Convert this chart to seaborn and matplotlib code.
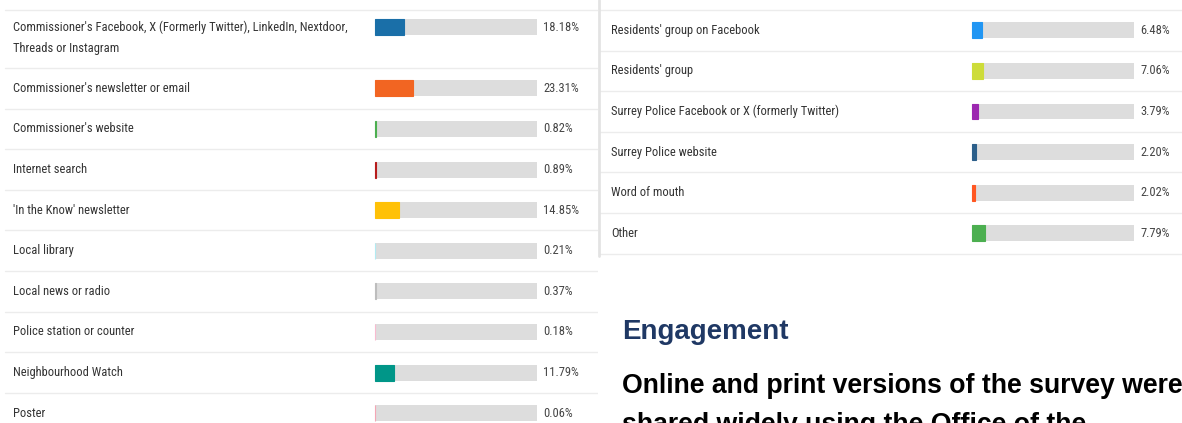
import matplotlib
matplotlib.use("Agg")
import matplotlib.pyplot as plt
import seaborn as sns
import pandas as pd

# --- data ---
left_labels = [
    "Commissioner's Facebook, X (Formerly Twitter), LinkedIn, Nextdoor,\nThreads or Instagram",
    "Commissioner's newsletter or email",
    "Commissioner's website",
    "Internet search",
    "'In the Know' newsletter",
    "Local library",
    "Local news or radio",
    "Police station or counter",
    "Neighbourhood Watch",
    "Poster",
]
left_values = [18.18, 23.31, 0.82, 0.89, 14.85, 0.21, 0.37, 0.18, 11.79, 0.06]
left_colors = ["#1a6fa8", "#f26522", "#4caf50", "#b71c1c", "#ffc107",
               "#b2ebf2", "#bdbdbd", "#f8bbd0", "#009688", "#f4a6b5"]

right_labels = [
    "Residents' group on Facebook",
    "Residents' group",
    "Surrey Police Facebook or X (formerly Twitter)",
    "Surrey Police website",
    "Word of mouth",
    "Other",
]
right_values = [6.48, 7.06, 3.79, 2.20, 2.02, 7.79]
right_colors = ["#2196f3", "#cddc39", "#9c27b0", "#2c5f8a", "#ff5722", "#4caf50"]

heading = "Engagement"
paragraph = ["Online and print versions of the survey were",
             "shared widely using the Office of the"]

sns.set_theme(style="white")
NARROW = ['Roboto Condensed', 'DejaVu Sans Condensed', 'Liberation Sans Narrow', 'Roboto']
plt.rcParams['font.family'] = NARROW

W, H = 1182, 423
fig = plt.figure(figsize=(W / 100, H / 100), dpi=100)
fig.patch.set_facecolor("white")

ROW = 40.6        # px per row
TOP = 10          # px, top of the tables
BAR_W = 162       # px, width of the 100% track
EXTRA = 0.43      # extra row height per wrapped line
LINE = 21 / ROW   # line spacing inside a wrapped label
FS = 9.0


def draw_panel(x0, x1, bar_x0, labels, values, colors, border=False):
    ax = fig.add_axes([x0 / W, 0, (x1 - x0) / W, 1])
    scale = BAR_W / 100
    to_data = lambda px: (px - bar_x0) / scale

    tops, centers = [], []
    t = 0.0
    for lab in labels:
        n = lab.count("\n") + 1
        tops.append(t)
        centers.append(t + 0.5 - 0.08 * (n - 1))
        t += 1 + EXTRA * (n - 1)
    tops.append(t)

    df = pd.DataFrame({"label": labels, "value": values, "pos": centers,
                       "full": [100] * len(labels)})
    sns.barplot(data=df, x="full", y="pos", orient="h", native_scale=True,
                color="#dddddd", saturation=1, width=16 / ROW, linewidth=0, ax=ax)
    n_bg = len(ax.patches)
    sns.barplot(data=df, x="value", y="pos", hue="label", orient="h",
                native_scale=True, dodge=False, legend=False, saturation=1,
                palette=dict(zip(labels, colors)), width=16 / ROW,
                linewidth=0, ax=ax)
    for p in ax.patches[n_bg:]:
        p.set_edgecolor(p.get_facecolor())
        p.set_linewidth(0.8)

    ax.set_xlim(to_data(x0), to_data(x1))
    ax.set_ylim((H - TOP) / ROW, -TOP / ROW)
    ax.set_axis_off()

    line_x0 = 5 if not border else 2
    for tp in tops:
        ax.axhline(tp, xmin=line_x0 / (x1 - x0), xmax=1, color="#ececec", lw=1, zorder=0)

    for lab, c, v in zip(labels, centers, values):
        for i, part in enumerate(lab.split("\n")):
            ax.text(to_data(x0 + 13), c + i * LINE, part, va="center", ha="left",
                    fontsize=FS, fontstretch="condensed", color="#333333")
        ax.text(to_data(bar_x0 + BAR_W + 6), c, f"{v:.2f}%", va="center", ha="left",
                fontsize=FS, fontstretch="condensed", color="#444444")

    if border:
        ax.axvline(to_data(x0 + 1), ymin=1 - (TOP + tops[-1] * ROW + 2) / H, ymax=1,
                   color="#e3e3e3", lw=2)
    return ax


draw_panel(0, 598, 375, left_labels, left_values, left_colors)
draw_panel(598, W, 972, right_labels, right_values, right_colors, border=True)

fig.text(622 / W, 1 - 339 / H, heading, family=['Liberation Sans', 'DejaVu Sans'],
         fontsize=20, fontweight="bold", color="#1f3864", va="baseline")
for i, line in enumerate(paragraph):
    fig.text(622 / W, 1 - (393 + i * 39) / H, line, family=['Liberation Sans', 'DejaVu Sans'],
             fontsize=19.2, fontweight="bold", color="black", va="baseline")

fig.savefig("out.png", dpi=100, facecolor="white")
